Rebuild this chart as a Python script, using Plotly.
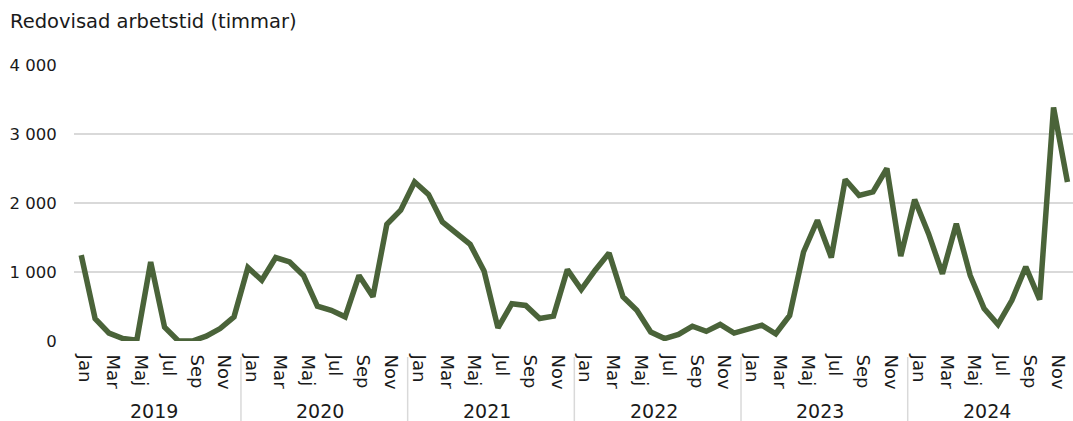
import plotly.graph_objects as go

years = ["2019", "2020", "2021", "2022", "2023", "2024"]
months = ["Jan", "Feb", "Mar", "Apr", "Maj", "Jun", "Jul", "Aug", "Sep", "Okt", "Nov", "Dec"]
shown_months = ["Jan", "Mar", "Maj", "Jul", "Sep", "Nov"]

hours_2019 = [1245, 325, 115, 35, 10, 1145, 200, 0, 0, 70, 180, 350]
hours_2020 = [1065, 880, 1210, 1145, 950, 505, 445, 350, 950, 640, 1690, 1895]
hours_2021 = [2305, 2125, 1725, 1565, 1400, 1015, 190, 540, 515, 325, 360, 1035]
hours_2022 = [745, 1025, 1275, 640, 445, 130, 35, 95, 215, 140, 240, 115]
hours_2023 = [180, 230, 105, 370, 1290, 1750, 1210, 2340, 2110, 2160, 2500, 1230]
hours_2024 = [2050, 1555, 975, 1700, 950, 470, 240, 590, 1075, 600, 3385, 2305]

y_ticks = [0, 1000, 2000, 3000, 4000]
y_tick_text = ["0", "1 000", "2 000", "3 000", "4 000"]

title_text = "Redovisad arbetstid (timmar)"

series = [hours_2019, hours_2020, hours_2021, hours_2022, hours_2023, hours_2024]
values = [v for yr in series for v in yr]
n = len(values)
xs = list(range(n))

tick_vals = [i for i in xs if months[i % 12] in shown_months]
tick_text = [months[i % 12] for i in tick_vals]

W, H = 1073, 421
ML, MR, MT, MB = 74, 0, 65, 80
PW, PH = W - ML - MR, H - MT - MB
x_lo, x_hi = -0.52, n - 0.6

def xpaper(v):
    return (v - x_lo) / (x_hi - x_lo)

font_family = "'DejaVu Sans', sans-serif"
text_color = "#1a1a1a"
grid_color = "#d9d9d9"

fig = go.Figure()
fig.add_trace(go.Scatter(
    x=xs, y=values, mode="lines",
    line=dict(color="#4a6339", width=5.5),
    cliponaxis=False, hoverinfo="skip", showlegend=False,
))

fig.update_layout(
    width=W, height=H,
    margin=dict(l=ML, r=MR, t=MT, b=MB, autoexpand=False),
    paper_bgcolor="white", plot_bgcolor="white",
    font=dict(family=font_family, color=text_color, size=17),
    showlegend=False,
)

fig.add_annotation(text=title_text, x=(8 - ML) / PW, xref="paper", xanchor="left",
                   y=1 + (MT - 22) / PH, yref="paper", yanchor="middle",
                   showarrow=False, font=dict(size=19.5, color=text_color, family=font_family))

fig.update_yaxes(
    range=[0, 4000], tickvals=y_ticks, ticktext=y_tick_text,
    showgrid=True, gridcolor=grid_color, gridwidth=1.5,
    zeroline=False, showline=False, automargin=False,
    ticks="outside", ticklen=13, tickcolor="rgba(0,0,0,0)",
    tickfont=dict(size=16.5, color=text_color),
)

fig.update_xaxes(
    range=[x_lo, x_hi], tickvals=tick_vals, ticktext=tick_text,
    tickangle=90, showgrid=False, zeroline=False, showline=False, automargin=False,
    ticks="outside", ticklen=9, tickcolor="rgba(0,0,0,0)", ticklabelshift=4,
    tickfont=dict(size=18, color=text_color),
)

for k, yr in enumerate(years):
    center = xpaper(k * 12 + 5.5)
    fig.add_annotation(text=yr, x=center, xref="paper", xanchor="center", xshift=-4,
                       y=0, yref="paper", yanchor="middle", yshift=-70, showarrow=False,
                       font=dict(size=19, color=text_color, family=font_family))
    if k > 0:
        bx = xpaper(k * 12 - 0.5)
        fig.add_shape(type="line", xref="paper", yref="paper",
                      x0=bx, x1=bx, y0=-16 / PH, y1=-MB / PH,
                      line=dict(color=grid_color, width=1.5))

fig.write_html("out.html", config={"displayModeBar": False},
               post_script="document.body.style.margin='0px';")
